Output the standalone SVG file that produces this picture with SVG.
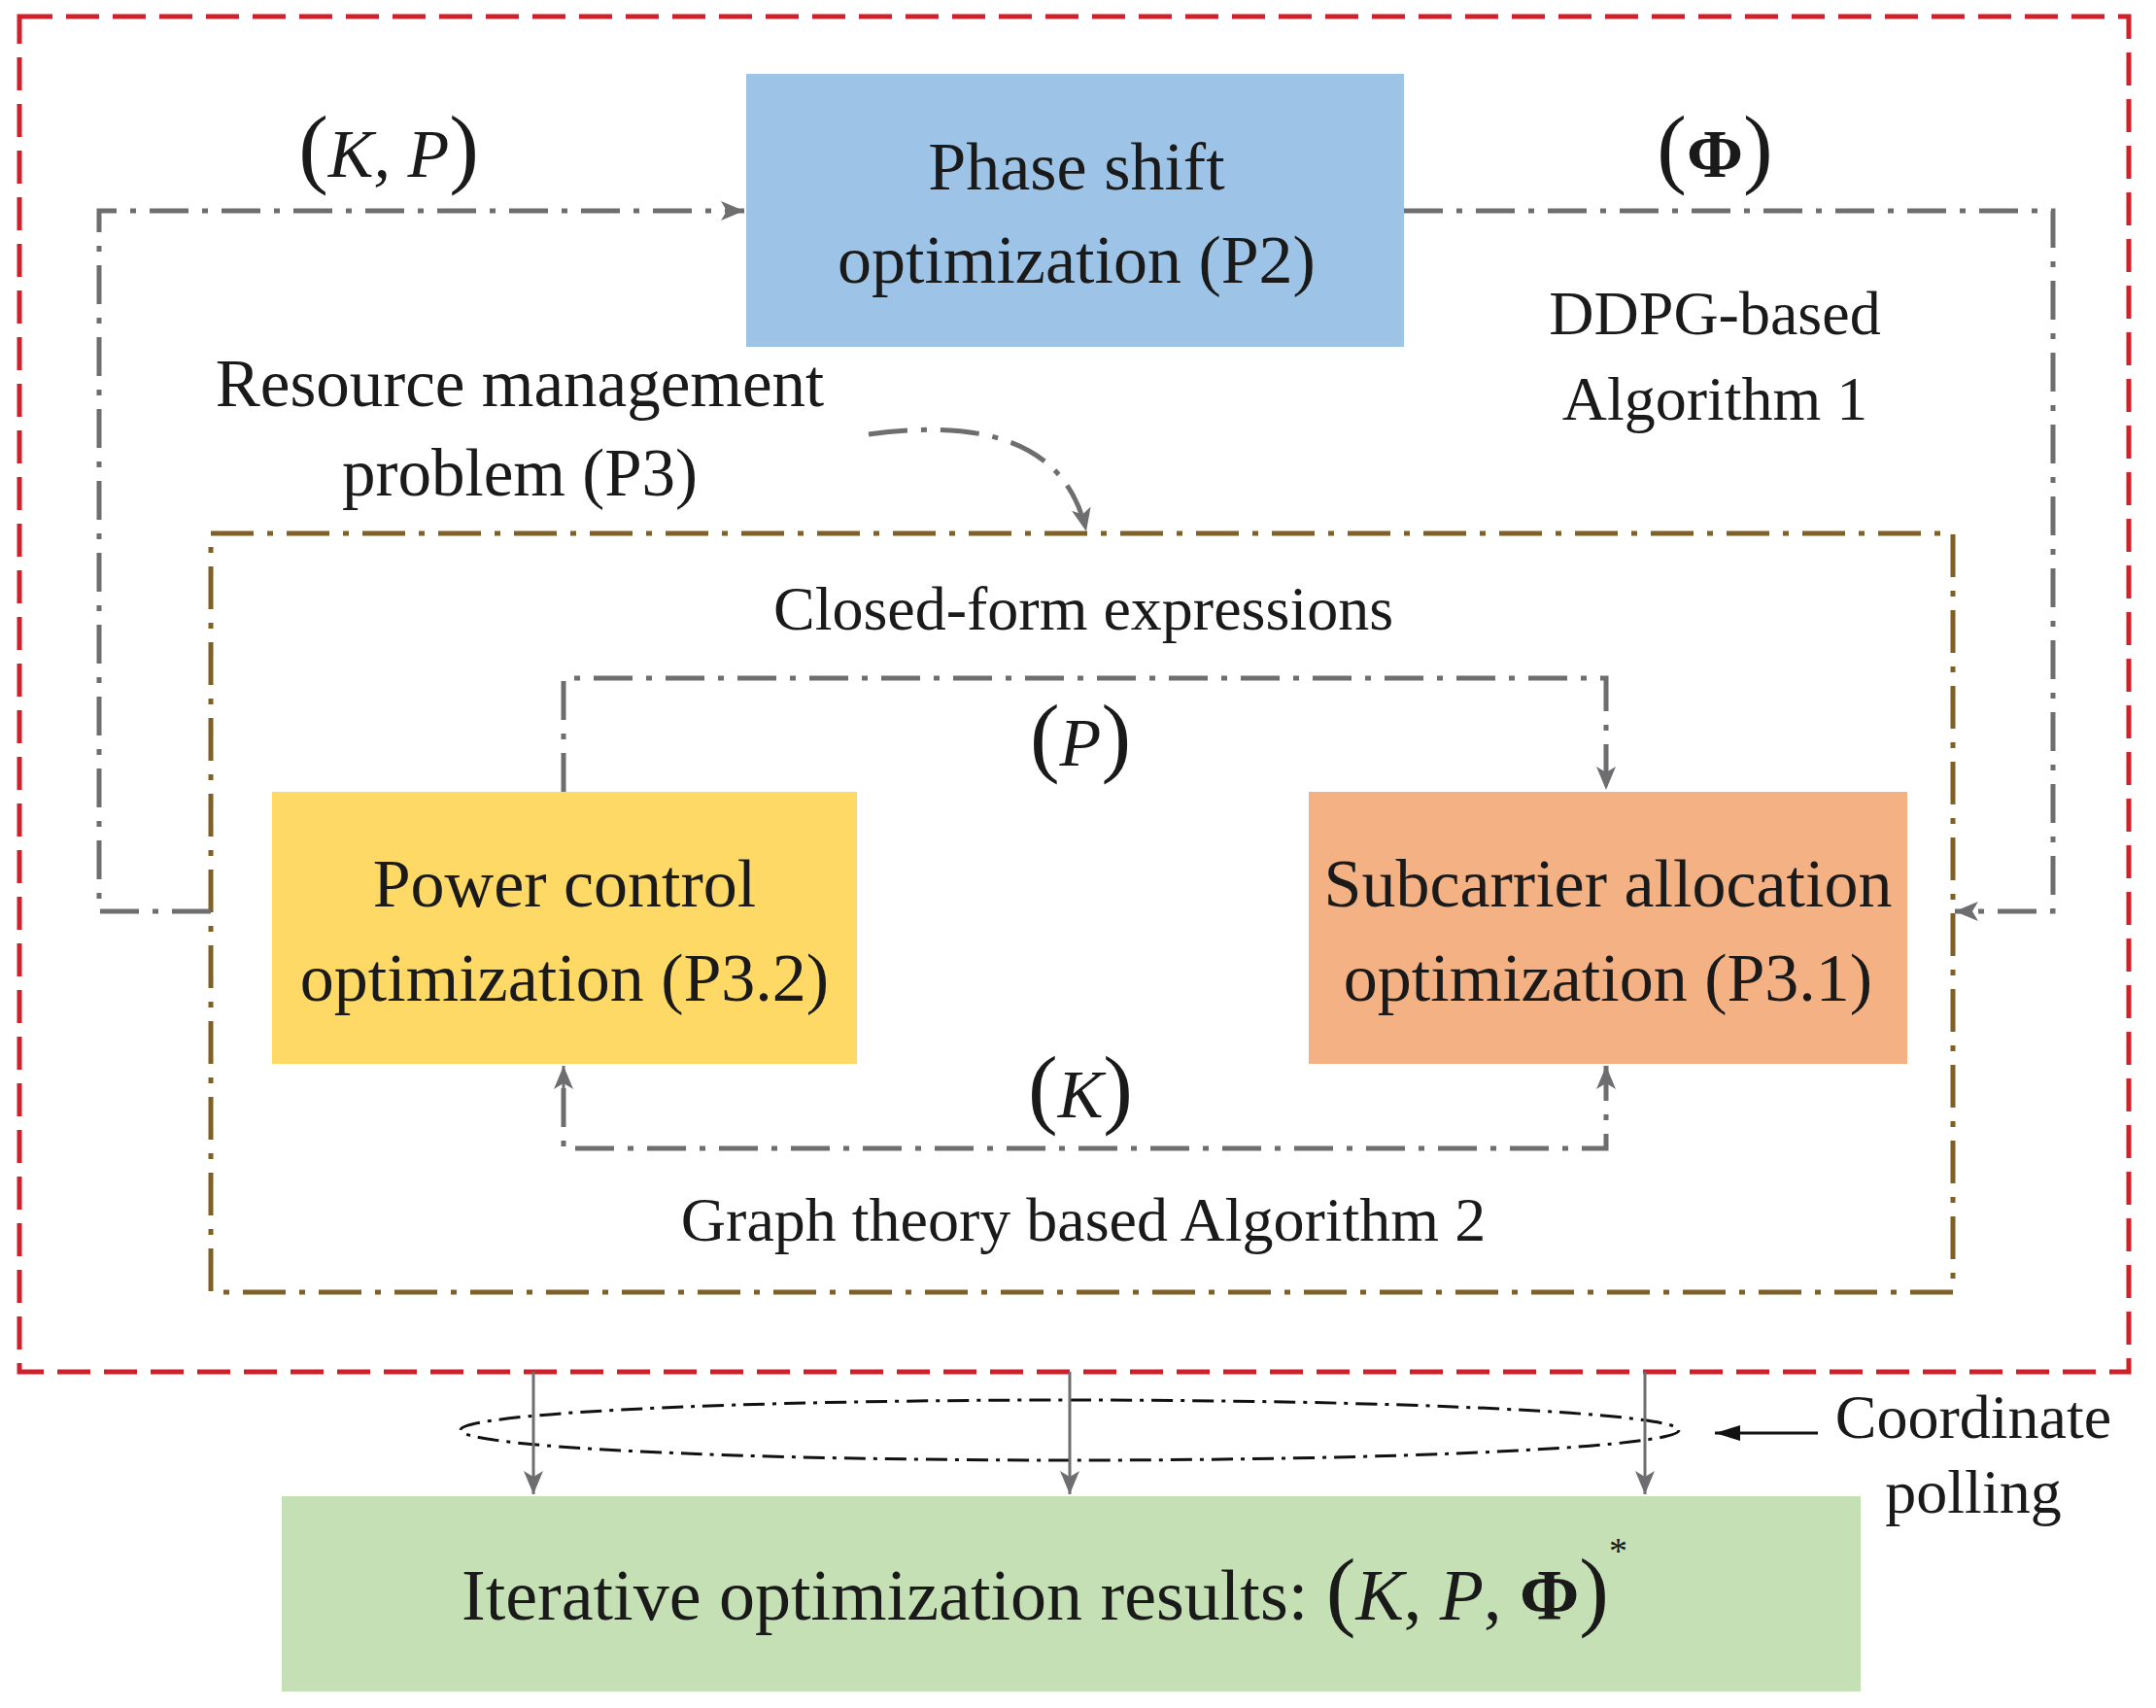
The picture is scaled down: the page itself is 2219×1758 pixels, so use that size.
<svg xmlns="http://www.w3.org/2000/svg" width="2219" height="1758" viewBox="0 0 2219 1758">
<style>
text{font-family:"Liberation Serif","Times New Roman",serif;fill:#1a1a1a;text-anchor:middle}
.t{font-size:70px}.s{font-size:64px}.r{font-size:69px}.m{font-size:70px;font-style:italic}.p{font-size:92px;font-style:normal}
.c{fill:none;stroke:#6e6e70;stroke-width:5;stroke-dasharray:40 14 6 14}
.v{fill:none;stroke:#6e6e70;stroke-width:3}
</style>
<defs>
<marker id="b" viewBox="0 0 24 20" refX="24" refY="10" markerWidth="24" markerHeight="20" markerUnits="userSpaceOnUse" orient="auto"><path d="M0,0 L24,10 L0,20 L6,10 Z" fill="#6e6e70"/></marker>
<marker id="k" viewBox="0 0 26 16" refX="26" refY="8" markerWidth="26" markerHeight="16" markerUnits="userSpaceOnUse" orient="auto"><path d="M0,0 L26,8 L0,16 Z" fill="#111"/></marker>
</defs>
<rect x="20" y="17" width="2171" height="1395" fill="none" stroke="#d0202a" stroke-width="5" stroke-dasharray="34 14"/>
<rect x="217" y="549" width="1793" height="781" fill="none" stroke="#7f6026" stroke-width="5" stroke-dasharray="44 14 6 14"/>
<g id="phase"><rect x="768" y="76" width="677" height="281" fill="#9dc3e6"/><text class="t" x="1108" y="195">Phase shift</text><text class="t" x="1108" y="291">optimization (P2)</text></g>
<g id="power"><rect x="280" y="815" width="602" height="280" fill="#ffd966"/><text class="t" x="581" y="933">Power control</text><text class="t" x="581" y="1030">optimization (P3.2)</text></g>
<g id="sub"><rect x="1347" y="815" width="616" height="280" fill="#f4b183"/><text class="t" x="1655" y="933">Subcarrier allocation</text><text class="t" x="1655" y="1030">optimization (P3.1)</text></g>
<g id="result"><rect x="290" y="1540" width="1625" height="201" fill="#c5e0b4"/><text x="1075" y="1667" font-size="74"><tspan>Iterative optimization results: </tspan><tspan class="p" font-size="98">(</tspan><tspan font-style="italic">K</tspan>, <tspan font-style="italic">P</tspan>, <tspan font-weight="bold">Φ</tspan><tspan class="p" font-size="98">)</tspan><tspan font-size="38" dy="-58">*</tspan></text></g>
<g id="labels">
<text class="m" x="400" y="182"><tspan class="p">(</tspan>K, P<tspan class="p">)</tspan></text>
<text class="t" x="1765" y="182"><tspan class="p">(</tspan><tspan font-weight="bold">Φ</tspan><tspan class="p">)</tspan></text>
<text class="s" x="1765" y="344">DDPG-based</text><text class="s" x="1765" y="432">Algorithm 1</text>
<text class="r" x="535" y="418">Resource management</text><text class="r" x="535" y="510">problem (P3)</text>
<text class="s" x="1115" y="648">Closed-form expressions</text>
<text class="m" x="1112" y="788"><tspan class="p">(</tspan>P<tspan class="p">)</tspan></text>
<text class="m" x="1112" y="1150"><tspan class="p">(</tspan>K<tspan class="p">)</tspan></text>
<text class="s" x="1115" y="1277">Graph theory based Algorithm 2</text>
<text class="s" x="2031" y="1480">Coordinate</text><text class="s" x="2031" y="1557">polling</text>
</g>
<g id="connectors">
<path class="c" d="M217,938 H102 V217 H766" marker-end="url(#b)"/>
<path class="c" d="M1445,217 H2113 V938 H2012" marker-end="url(#b)"/>
<path class="c" d="M580,815 V698 H1653 V813" marker-end="url(#b)"/>
<path class="c" d="M580,1120 V1182 H1653 V1097" marker-end="url(#b)"/>
<path class="v" d="M580,1120 V1097" marker-end="url(#b)"/>
<path class="c" d="M894,447 Q1090,420 1118,547" marker-end="url(#b)"/>
<ellipse cx="1101" cy="1472" rx="627" ry="31" fill="none" stroke="#111" stroke-width="3" stroke-dasharray="22 8 4 8"/>
<path class="v" d="M549,1412 V1538" marker-end="url(#b)"/>
<path class="v" d="M1101,1412 V1538" marker-end="url(#b)"/>
<path class="v" d="M1693,1412 V1538" marker-end="url(#b)"/>
<path d="M1871,1475 H1765" stroke="#111" stroke-width="3" marker-end="url(#k)"/>
</g>
</svg>
